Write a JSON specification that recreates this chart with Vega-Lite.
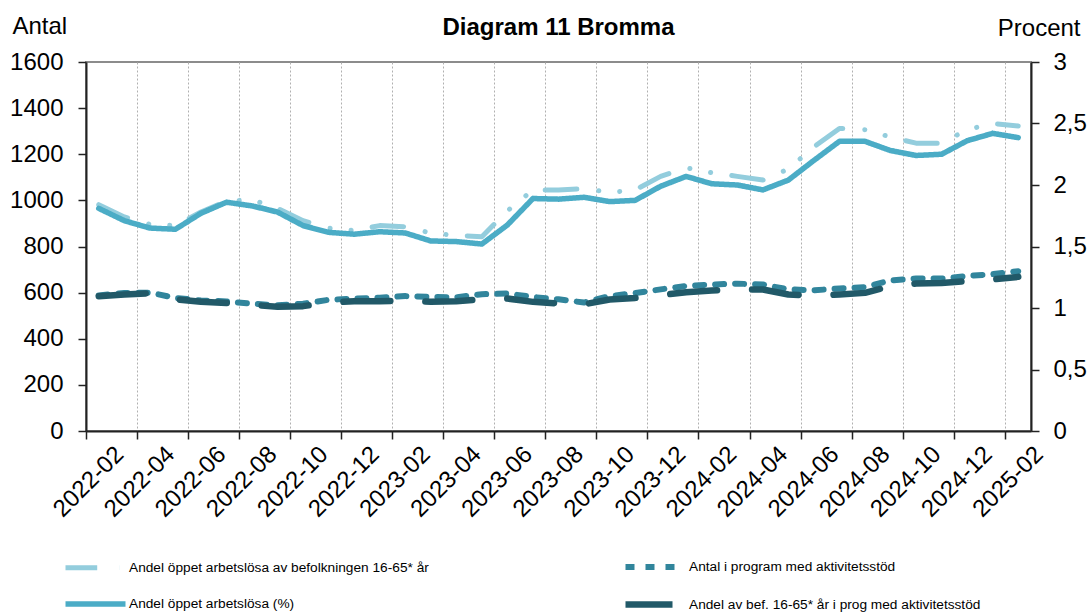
{
  "$schema": "https://vega.github.io/schema/vega-lite/v6.json",
  "width": 945,
  "height": 369,
  "autosize": {"type": "none"},
  "padding": {"left": 86, "top": 62, "right": 61, "bottom": 184},
  "background": "white",
  "config": {
    "font": "Liberation Sans",
    "view": {"stroke": "#8c8c8c", "strokeWidth": 2}
  },
  "title": {
    "text": "Diagram 11 Bromma",
    "fontSize": 24,
    "fontWeight": "bold",
    "color": "#000000",
    "anchor": "middle",
    "frame": "group",
    "baseline": "alphabetic",
    "offset": -45
  },
  "datasets": {
    "wide": [
      {"m": "2022-02", "L": 1.84, "S": 1.81, "A": 588, "D": 1.096},
      {"m": "2022-03", "L": 1.74, "S": 1.71, "A": 598, "D": 1.11},
      {"m": "2022-04", "L": 1.68, "S": 1.65, "A": 600, "D": 1.12},
      {"m": "2022-05", "L": 1.67, "S": 1.64, "A": 577, "D": 1.07},
      {"m": "2022-06", "L": 1.78, "S": 1.77, "A": 566, "D": 1.05},
      {"m": "2022-07", "L": 1.87, "S": 1.86, "A": 562, "D": 1.04},
      {"m": "2022-08", "L": 1.88, "S": 1.83, "A": 552, "D": 1.025},
      {"m": "2022-09", "L": 1.81, "S": 1.78, "A": 545, "D": 1.01},
      {"m": "2022-10", "L": 1.71, "S": 1.67, "A": 552, "D": 1.015},
      {"m": "2022-11", "L": 1.65, "S": 1.615, "A": 569, "D": 1.045},
      {"m": "2022-12", "L": 1.63, "S": 1.6, "A": 574, "D": 1.055},
      {"m": "2023-01", "L": 1.67, "S": 1.62, "A": 578, "D": 1.055},
      {"m": "2023-02", "L": 1.66, "S": 1.61, "A": 585, "D": 1.06},
      {"m": "2023-03", "L": 1.61, "S": 1.545, "A": 581, "D": 1.05},
      {"m": "2023-04", "L": 1.59, "S": 1.54, "A": 580, "D": 1.055},
      {"m": "2023-05", "L": 1.58, "S": 1.52, "A": 593, "D": 1.07},
      {"m": "2023-06", "L": 1.79, "S": 1.675, "A": 596, "D": 1.077},
      {"m": "2023-07", "L": 1.96, "S": 1.89, "A": 581, "D": 1.05},
      {"m": "2023-08", "L": 1.96, "S": 1.885, "A": 571, "D": 1.037},
      {"m": "2023-09", "L": 1.97, "S": 1.9, "A": 557, "D": 1.03},
      {"m": "2023-10", "L": 1.94, "S": 1.865, "A": 585, "D": 1.069},
      {"m": "2023-11", "L": 1.96, "S": 1.875, "A": 598, "D": 1.082},
      {"m": "2023-12", "L": 2.07, "S": 1.99, "A": 614, "D": 1.104},
      {"m": "2024-01", "L": 2.14, "S": 2.07, "A": 629, "D": 1.128},
      {"m": "2024-02", "L": 2.1, "S": 2.01, "A": 635, "D": 1.142},
      {"m": "2024-03", "L": 2.07, "S": 2.0, "A": 639, "D": 1.153},
      {"m": "2024-04", "L": 2.04, "S": 1.96, "A": 635, "D": 1.15},
      {"m": "2024-05", "L": 2.13, "S": 2.04, "A": 614, "D": 1.11},
      {"m": "2024-06", "L": 2.31, "S": 2.2, "A": 610, "D": 1.1},
      {"m": "2024-07", "L": 2.46, "S": 2.355, "A": 618, "D": 1.11},
      {"m": "2024-08", "L": 2.45, "S": 2.355, "A": 624, "D": 1.123},
      {"m": "2024-09", "L": 2.39, "S": 2.28, "A": 653, "D": 1.177},
      {"m": "2024-10", "L": 2.34, "S": 2.24, "A": 661, "D": 1.199},
      {"m": "2024-11", "L": 2.34, "S": 2.25, "A": 661, "D": 1.204},
      {"m": "2024-12", "L": 2.45, "S": 2.36, "A": 672, "D": 1.218},
      {"m": "2025-01", "L": 2.5, "S": 2.42, "A": 680, "D": 1.232},
      {"m": "2025-02", "L": 2.48, "S": 2.385, "A": 693, "D": 1.253}
    ]
  },
  "data": {"name": "wide"},
  "transform": [
    {"fold": ["L", "A", "S", "D"], "as": ["k", "v"]},
    {"lookup": "k", "from": {"data": {"values": [
      {"k": "L", "s": "Andel öppet arbetslösa av befolkningen 16-65* år"},
      {"k": "A", "s": "Antal i program med aktivitetsstöd"},
      {"k": "S", "s": "Andel öppet arbetslösa (%)"},
      {"k": "D", "s": "Andel av bef. 16-65* år i prog med aktivitetsstöd"}
    ]}, "key": "k", "fields": ["s"]}}
  ],
  "encoding": {
    "x": {
      "field": "m",
      "type": "ordinal",
      "bandPosition": 0.5,
      "scale": {"type": "band", "paddingInner": 0, "paddingOuter": 0},
      "axis": {
        "title": null,
        "values": ["2022-02","2022-04","2022-06","2022-08","2022-10","2022-12","2023-02","2023-04","2023-06","2023-08","2023-10","2023-12","2024-02","2024-04","2024-06","2024-08","2024-10","2024-12","2025-02"],
        "bandPosition": 0,
        "labelOffset": 12.77,
        "grid": true,
        "gridColor": "#b0b0b0",
        "gridDash": [2, 2],
        "gridWidth": 1,
        "labelAngle": -45,
        "labelAlign": "right",
        "labelBaseline": "top",
        "labelFontSize": 24,
        "labelColor": "#000000",
        "labelPadding": 3,
        "tickSize": 8,
        "tickColor": "#222222",
        "tickWidth": 1.5,
        "domainColor": "#222222",
        "domainWidth": 2
      }
    },
    "color": {
      "field": "s",
      "type": "nominal",
      "scale": {
        "domain": ["Andel öppet arbetslösa av befolkningen 16-65* år", "Andel öppet arbetslösa (%)", "Antal i program med aktivitetsstöd", "Andel av bef. 16-65* år i prog med aktivitetsstöd"],
        "range": ["#93CDDD", "#4BACC6", "#31859C", "#215968"]
      },
      "legend": {
        "title": null,
        "orient": "none",
        "legendX": -9,
        "legendY": 487,
        "columns": 2,
        "columnPadding": 183,
        "rowPadding": 7,
        "symbolType": "M-2,0L2,0",
        "symbolSize": 900,
        "labelFontSize": 13.7,
        "labelColor": "#000000",
        "labelOffset": 15,
        "labelLimit": 600
      }
    },
    "strokeDash": {
      "field": "s",
      "type": "nominal",
      "scale": {
        "domain": ["Andel öppet arbetslösa av befolkningen 16-65* år", "Andel öppet arbetslösa (%)", "Antal i program med aktivitetsstöd", "Andel av bef. 16-65* år i prog med aktivitetsstöd"],
        "range": [[31.7, 22, 0.1, 21, 0.1, 21.3], [1, 0], [9, 11], [47, 35]]
      }
    },
    "strokeWidth": {
      "field": "s",
      "type": "nominal",
      "scale": {
        "domain": ["Andel öppet arbetslösa av befolkningen 16-65* år", "Andel öppet arbetslösa (%)", "Antal i program med aktivitetsstöd", "Andel av bef. 16-65* år i prog med aktivitetsstöd"],
        "range": [5, 6.5, 5, 8]
      }
    }
  },
  "layer": [
    {
      "transform": [{"filter": "datum.k === 'A'"}],
      "mark": {"type": "line", "strokeCap": "round", "strokeJoin": "round"},
      "encoding": {
        "y": {
          "field": "v",
          "type": "quantitative",
          "scale": {"domain": [0, 1600], "nice": false, "zero": true},
          "axis": {
            "orient": "left",
            "title": "Antal",
            "values": [0, 200, 400, 600, 800, 1000, 1200, 1400, 1600],
            "format": "d",
            "grid": false,
            "labelFontSize": 24,
            "labelColor": "#000000",
            "labelPadding": 15,
            "tickSize": 8,
            "tickColor": "#222222",
            "tickWidth": 1.5,
            "domainColor": "#222222",
            "domainWidth": 2,
            "titleFontSize": 24,
            "titleFontWeight": "normal",
            "titleColor": "#000000",
            "titleAngle": 0,
            "titleAlign": "left",
            "titleBaseline": "alphabetic",
            "titleX": -74,
            "titleY": -29
          }
        }
      }
    },
    {
      "transform": [{"filter": "datum.k !== 'A'"}],
      "mark": {"type": "line", "strokeCap": "round", "strokeJoin": "round"},
      "encoding": {
        "y": {
          "field": "v",
          "type": "quantitative",
          "scale": {"domain": [0, 3], "nice": false, "zero": true},
          "axis": {
            "orient": "right",
            "title": "Procent",
            "values": [0, 0.5, 1, 1.5, 2, 2.5, 3],
            "labelExpr": "replace(format(datum.value, '.1~f'), '.', ',')",
            "grid": false,
            "labelFontSize": 24,
            "labelColor": "#000000",
            "labelPadding": 14,
            "tickSize": 8,
            "tickColor": "#222222",
            "tickWidth": 1.5,
            "domainColor": "#222222",
            "domainWidth": 2,
            "titleFontSize": 24,
            "titleFontWeight": "normal",
            "titleColor": "#000000",
            "titleAngle": 0,
            "titleAlign": "right",
            "titleBaseline": "alphabetic",
            "titleX": 49,
            "titleY": -27
          }
        }
      }
    }
  ],
  "resolve": {"scale": {"y": "independent"}}
}
